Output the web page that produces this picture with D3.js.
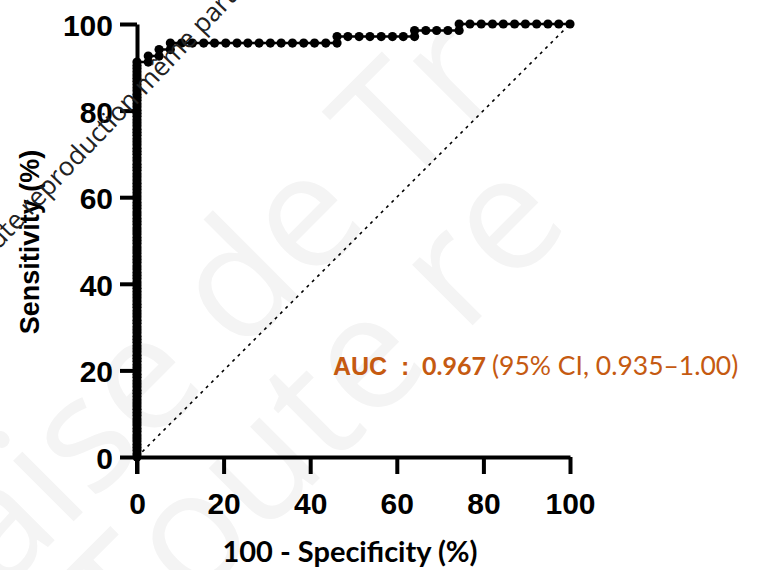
<!DOCTYPE html>
<html>
<head>
<meta charset="utf-8">
<script src="https://cdn.jsdelivr.net/npm/d3@7/dist/d3.min.js"></script>
<style>
  body { margin: 0; background: #fff; }
  .tick text { font-family: "Liberation Sans", Arial, sans-serif; font-weight: bold; font-size: 30px; fill: #000; }
</style>
</head>
<body>
<svg id="chart" width="757" height="570"></svg>
<script>

// ticks
var xTicks = [0, 20, 40, 60, 80, 100];
var yTicks = [0, 20, 40, 60, 80, 100];

// ROC points at 100 - Specificity = 0 (sensitivity %)
var sensAtZero = [0, 0.7, 1.5, 2.2, 2.9, 3.7, 4.4, 5.1, 5.9, 6.6, 7.4, 8.1, 8.8, 9.6, 10.3, 11.0,
	11.8, 12.5, 13.2, 14.0, 14.7, 15.4, 16.2, 16.9, 17.6, 18.4, 19.1, 19.9, 20.6, 21.3, 22.1, 22.8,
	23.5, 24.3, 25.0, 25.7, 26.5, 27.2, 27.9, 28.7, 29.4, 30.1, 30.9, 31.6, 32.4, 33.1, 33.8, 34.6,
	35.3, 36.0, 36.8, 37.5, 38.2, 39.0, 39.7, 40.4, 41.2, 41.9, 42.6, 43.4, 44.1, 44.9, 45.6, 46.3,
	47.1, 47.8, 48.5, 49.3, 50.0, 50.7, 51.5, 52.2, 52.9, 53.7, 54.4, 55.1, 55.9, 56.6, 57.4, 58.1,
	58.8, 59.6, 60.3, 61.0, 61.8, 62.5, 63.2, 64.0, 64.7, 65.4, 66.2, 66.9, 67.6, 68.4, 69.1, 69.9,
	70.6, 71.3, 72.1, 72.8, 73.5, 74.3, 75.0, 75.7, 76.5, 77.2, 77.9, 78.7, 79.4, 80.1, 80.9, 81.6,
	82.4, 83.1, 83.8, 84.6, 85.3, 86.0, 86.8, 87.5, 88.2, 89.0, 89.7, 90.4, 91.2];

// remaining ROC points
var curveFpr = [2.6, 2.6, 5.1, 5.1, 7.7, 7.7, 10.3, 12.8, 15.4, 17.9, 20.5, 23.1, 25.6, 28.2, 30.8,
	33.3, 35.9, 38.5, 41.0, 43.6, 46.2, 46.2, 48.7, 51.3, 53.8, 56.4, 59.0, 61.5, 64.1, 64.1,
	66.7, 69.2, 71.8, 74.4, 74.4, 76.9, 79.5, 82.1, 84.6, 87.2, 89.7, 92.3, 94.9, 97.4, 100];
var curveSens = [91.2, 92.6, 92.6, 94.1, 94.1, 95.6, 95.6, 95.6, 95.6, 95.6, 95.6, 95.6, 95.6, 95.6, 95.6,
	95.6, 95.6, 95.6, 95.6, 95.6, 95.6, 97.1, 97.1, 97.1, 97.1, 97.1, 97.1, 97.1, 97.1, 98.5,
	98.5, 98.5, 98.5, 98.5, 100, 100, 100, 100, 100, 100, 100, 100, 100, 100, 100];

var aucLabel = 'AUC';
var aucValue = '0.967';
var aucCI = '(95% CI, 0.935\u20131.00)';

var svg = d3.select('#chart');

// faint watermark behind everything
var wm = svg.append('g').attr('class', 'watermark')
	.style('font-family', 'Open Sans, sans-serif')
	.style('font-size', '160px')
	.style('fill', '#f4f4f4');
wm.append('text')
	.attr('transform', 'translate(-290,885) rotate(-45)')
	.text('Française de Tr');
wm.append('text')
	.attr('transform', 'translate(130,668) rotate(-45)')
	.text('Toute re');

var x = d3.scaleLinear().domain([0, 100]).range([137, 570]);
var y = d3.scaleLinear().domain([0, 100]).range([457, 24]);

var points = sensAtZero.map(function(s) { return [0, s]; })
	.concat(curveFpr.map(function(f, i) { return [f, curveSens[i]]; }));

// chance line
svg.append('line')
	.attr('x1', x(0)).attr('y1', y(0))
	.attr('x2', x(100)).attr('y2', y(100))
	.attr('stroke', '#000')
	.attr('stroke-width', 1.6)
	.attr('stroke-dasharray', '3,4.5');

// axes
var xAxis = svg.append('g')
	.attr('transform', 'translate(0,' + y(0) + ')')
	.call(d3.axisBottom(x).tickValues(xTicks).tickSize(17).tickSizeOuter(0).tickPadding(19));
var yAxis = svg.append('g')
	.attr('transform', 'translate(' + x(0) + ',0)')
	.call(d3.axisLeft(y).tickValues(yTicks).tickSize(17).tickSizeOuter(0).tickPadding(7));

[xAxis, yAxis].forEach(function(a) {
	a.select('.domain').attr('stroke', '#000').attr('stroke-width', 4);
	a.selectAll('.tick line').attr('stroke', '#000').attr('stroke-width', 4);
});
yAxis.selectAll('.tick text').attr('dy', '0.38em');
// extend y axis down to the x tick length
yAxis.append('line')
	.attr('x1', 0).attr('x2', 0)
	.attr('y1', y(0)).attr('y2', y(0) + 17)
	.attr('stroke', '#000').attr('stroke-width', 4);

// ROC curve
svg.append('path')
	.datum(points)
	.attr('d', d3.line().x(function(d) { return x(d[0]); }).y(function(d) { return y(d[1]); }))
	.attr('fill', 'none')
	.attr('stroke', '#000')
	.attr('stroke-width', 2.5);

svg.selectAll('circle.pt')
	.data(points)
	.enter().append('circle')
	.attr('class', 'pt')
	.attr('cx', function(d) { return x(d[0]); })
	.attr('cy', function(d) { return y(d[1]); })
	.attr('r', 4.6)
	.attr('fill', '#000');

// axis titles
svg.append('text')
	.attr('x', 350).attr('y', 562)
	.attr('text-anchor', 'middle')
	.style('font-family', 'Lato, sans-serif')
	.style('font-weight', 'bold')
	.style('font-size', '29px')
	.text('100 - Specificity (%)');

svg.append('text')
	.attr('transform', 'translate(39,242) rotate(-90)')
	.attr('text-anchor', 'middle')
	.style('font-family', 'Liberation Sans, Arial, sans-serif')
	.style('font-weight', 'bold')
	.style('font-size', '27px')
	.text('Sensitivity (%)');

// AUC annotation
var auc = svg.append('g').style('fill', '#C55A11');
auc.append('text')
	.attr('x', 333).attr('y', 375)
	.style('font-family', 'Liberation Sans, Arial, sans-serif')
	.style('font-weight', 'bold')
	.style('font-size', '25px')
	.text(aucLabel);
auc.append('text')
	.attr('x', 401).attr('y', 375)
	.style('font-family', 'Liberation Sans, Arial, sans-serif')
	.style('font-weight', 'bold')
	.style('font-size', '25px')
	.text(':');
auc.append('text')
	.attr('x', 422).attr('y', 375)
	.style('font-family', 'Lato, sans-serif')
	.style('font-weight', 'bold')
	.style('font-size', '25px')
	.text(aucValue);
auc.append('text')
	.attr('x', 492).attr('y', 375)
	.style('font-family', 'Lato, sans-serif')
	.style('font-size', '26.5px')
	.text(aucCI);

// small diagonal watermark
svg.append('text')
	.attr('transform', 'translate(-22,272) rotate(-46.5)')
	.style('font-family', 'Open Sans, sans-serif')
	.style('font-size', '26px')
	.style('fill', '#222')
	.text('Toute reproduction même partielle');

</script>
</body>
</html>
